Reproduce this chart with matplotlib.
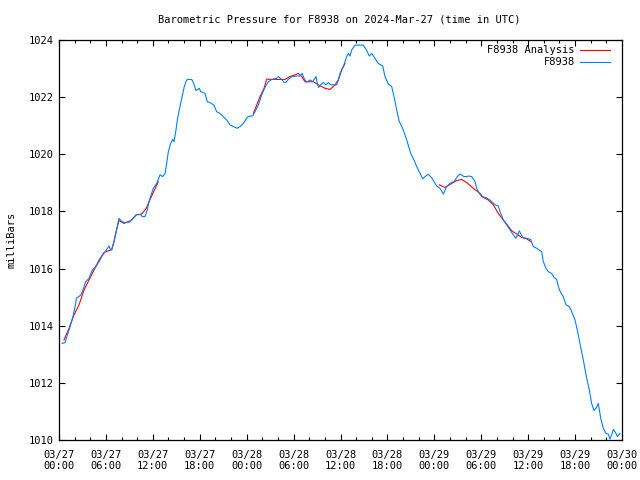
import numpy as np
import pandas as pd
import matplotlib
matplotlib.use("Agg")
import matplotlib.pyplot as plt
import matplotlib.dates as mdates

# leituras da estacao F8938 (horas desde 2024-03-27 00:00 UTC, mb)
horas_obs = [0.42, 0.77, 1.28, 1.79, 2.14, 2.21, 2.78, 3.07, 3.41, 3.84, 4.26, 4.69, 5.12, 5.46,
             5.75, 6.05, 6.39, 6.61, 6.74, 7.03, 7.25, 7.46, 7.67, 7.89, 8.31, 8.95, 9.37, 9.89,
             10.45, 10.65, 11.00, 11.29, 11.51, 11.64, 12.06, 12.49, 12.92, 13.26, 13.56, 13.77,
             13.98, 14.28, 14.54, 14.71, 14.96, 15.13, 15.38, 15.56, 15.82, 16.02, 16.24, 16.41,
             16.97, 17.26, 17.52, 17.74, 17.94, 18.12, 18.38, 18.67, 18.97, 19.31, 19.82, 20.17,
             20.59, 21.01, 21.45, 21.87, 22.29, 22.80, 23.15, 23.57, 24.08, 24.43, 24.77, 25.07,
             25.49, 25.92, 26.34, 26.77, 27.20, 27.84, 28.05, 28.48, 28.77, 29.03, 29.32, 29.76,
             30.40, 30.82, 31.11, 31.33, 31.68, 32.10, 32.44, 32.87, 33.03, 33.21, 33.47, 33.80,
             34.15, 34.44, 34.75, 35.51, 35.72, 35.94, 36.36, 36.79, 37.00, 37.21, 37.43, 37.85,
             38.92, 39.35, 39.68, 39.99, 40.41, 40.83, 41.40, 41.69, 42.11, 42.55, 42.84, 43.19,
             43.52, 43.95, 44.47, 44.98, 45.40, 45.75, 46.17, 46.51, 46.81, 47.23, 47.66, 47.96,
             48.30, 48.72, 49.15, 49.58, 50.00, 50.51, 50.94, 51.28, 51.79, 52.14, 52.34, 52.78,
             53.20, 53.42, 53.75, 54.06, 54.61, 55.12, 55.76, 56.18, 56.40, 56.82, 57.25, 57.68,
             58.10, 58.44, 58.87, 59.30, 59.81, 60.32, 60.66, 61.09, 61.73, 61.94, 62.28, 62.58,
             63.01, 63.30, 63.65, 63.85, 64.16, 64.49, 64.84, 65.26, 65.57, 65.99, 66.28, 66.63,
             67.05, 67.40, 67.82, 68.12, 68.42, 68.67, 68.97, 69.28, 69.61, 69.95, 70.25, 70.46,
             70.68, 70.89, 71.23, 71.40, 71.74]
pressao_obs = [1013.38, 1013.41, 1013.85, 1014.32, 1014.78, 1014.96, 1015.07, 1015.25, 1015.54,
               1015.66, 1015.95, 1016.07, 1016.24, 1016.42, 1016.53, 1016.65, 1016.79, 1016.65,
               1016.65, 1016.94, 1017.23, 1017.47, 1017.76, 1017.68, 1017.61, 1017.62, 1017.72,
               1017.89, 1017.89, 1017.82, 1017.82, 1018.05, 1018.34, 1018.46, 1018.81, 1018.98,
               1019.28, 1019.22, 1019.33, 1019.68, 1020.09, 1020.38, 1020.52, 1020.44, 1020.85,
               1021.20, 1021.55, 1021.78, 1022.13, 1022.37, 1022.54, 1022.62, 1022.62, 1022.46,
               1022.23, 1022.27, 1022.31, 1022.19, 1022.17, 1022.13, 1021.84, 1021.81, 1021.72,
               1021.49, 1021.43, 1021.32, 1021.20, 1021.03, 1020.97, 1020.91, 1020.97, 1021.08,
               1021.29, 1021.34, 1021.34, 1021.49, 1021.72, 1022.08, 1022.34, 1022.54, 1022.62,
               1022.66, 1022.72, 1022.62, 1022.52, 1022.52, 1022.62, 1022.72, 1022.74, 1022.74,
               1022.83, 1022.66, 1022.52, 1022.60, 1022.54, 1022.72, 1022.48, 1022.34, 1022.43,
               1022.51, 1022.43, 1022.51, 1022.43, 1022.43, 1022.60, 1022.83, 1023.07, 1023.42,
               1023.53, 1023.44, 1023.65, 1023.82, 1023.82, 1023.63, 1023.44, 1023.53, 1023.36,
               1023.18, 1023.09, 1022.72, 1022.46, 1022.37, 1022.02, 1021.55, 1021.14, 1020.91,
               1020.50, 1020.03, 1019.80, 1019.57, 1019.33, 1019.14, 1019.22, 1019.30, 1019.18,
               1019.04, 1018.89, 1018.81, 1018.61, 1018.87, 1018.98, 1019.04, 1019.22, 1019.31,
               1019.22, 1019.22, 1019.24, 1019.22, 1019.04, 1018.81, 1018.63, 1018.52, 1018.48,
               1018.40, 1018.23, 1018.19, 1017.99, 1017.70, 1017.53, 1017.35, 1017.18, 1017.06,
               1017.32, 1017.09, 1017.06, 1017.02, 1016.77, 1016.71, 1016.59, 1016.24, 1016.01,
               1015.89, 1015.83, 1015.69, 1015.62, 1015.37, 1015.16, 1015.02, 1014.73, 1014.67,
               1014.49, 1014.20, 1013.85, 1013.38, 1012.80, 1012.28, 1011.75, 1011.28, 1011.03,
               1011.11, 1011.28, 1010.76, 1010.41, 1010.23, 1010.21, 1010.03, 1010.18, 1010.37,
               1010.23, 1010.12, 1010.23]

# analise (tres trechos, NaN separa)
horas_analise = [0.64, 1.28, 1.92, 2.56, 3.20, 3.84, 4.48, 5.12, 5.75, 6.39, 6.74, 7.03, 7.46,
                 7.67, 8.31, 9.17, 9.89, 10.58, 11.16, 11.51, 12.70, 12.8,
                 24.85, 25.07, 25.71, 26.22, 26.56, 27.20, 28.90, 29.54, 30.18, 30.60, 31.04,
                 31.46, 32.52, 33.16, 34.02, 34.66, 35.30, 35.72, 36.15, 36.58, 36.7,
                 48.64, 49.36, 50.22, 50.86, 51.50, 52.14, 52.98, 53.84, 54.26, 54.90, 55.54,
                 56.18, 56.82, 57.33, 57.90, 58.54, 59.17, 59.81, 60.36]
pressao_analise = [1013.50, 1013.91, 1014.38, 1014.73, 1015.25, 1015.60, 1015.95, 1016.30,
                   1016.56, 1016.63, 1016.67, 1016.94, 1017.47, 1017.68, 1017.58, 1017.68,
                   1017.88, 1017.91, 1018.11, 1018.34, 1019.04, np.nan,
                   1021.43, 1021.57, 1022.02, 1022.31, 1022.63, 1022.62, 1022.62, 1022.72,
                   1022.78, 1022.83, 1022.72, 1022.54, 1022.54, 1022.43, 1022.31, 1022.27,
                   1022.43, 1022.60, 1022.95, 1023.18, np.nan,
                   1018.93, 1018.84, 1018.98, 1019.08, 1019.12, 1019.01, 1018.81, 1018.63,
                   1018.49, 1018.40, 1018.23, 1017.93, 1017.70, 1017.53, 1017.32, 1017.21,
                   1017.09, 1017.04, 1016.94]

inicio = pd.Timestamp("2024-03-27 00:00")
tempo_obs = inicio + pd.to_timedelta(horas_obs, unit="h")
tempo_analise = inicio + pd.to_timedelta(horas_analise, unit="h")

plt.rcParams['font.family'] = ['DejaVu Sans Mono']
plt.rcParams['font.size'] = 7

fig = plt.figure(figsize=(6.4, 4.8), dpi=100)
ax = fig.add_axes([59 / 640, 40 / 480, 563 / 640, 400 / 480])

ax.plot(tempo_analise, pressao_analise, color='#ff0000', lw=0.8)
ax.plot(tempo_obs, pressao_obs, color='#0080ff', lw=0.8)

ax.set_xlim(inicio, inicio + pd.Timedelta(hours=72))
ax.set_ylim(1010, 1024)
ax.set_yticks(np.arange(1010, 1025, 2))
ax.xaxis.set_major_locator(mdates.HourLocator(byhour=[0, 6, 12, 18]))
ax.xaxis.set_minor_locator(mdates.HourLocator(interval=2))
ax.xaxis.set_major_formatter(mdates.DateFormatter('%m/%d\n%H:%M'))
ax.tick_params(which='both', direction='in', top=True, right=True, width=0.8, color='black')
ax.tick_params(which='major', length=4, labelsize=7.5)
ax.tick_params(axis='x', which='major', pad=7)
ax.tick_params(which='minor', length=2.5)
for s in ax.spines.values():
    s.set_linewidth(0.9)

# legenda estilo gnuplot
ax.text(0.9165, 0.975, 'F8938 Analysis', transform=ax.transAxes, ha='right', va='center', fontsize=7.5)
ax.plot([0.925, 0.979], [0.975, 0.975], transform=ax.transAxes, color='#ff0000', lw=0.8)
ax.text(0.9165, 0.945, 'F8938', transform=ax.transAxes, ha='right', va='center', fontsize=7.5)
ax.plot([0.925, 0.979], [0.945, 0.945], transform=ax.transAxes, color='#0080ff', lw=0.8)

fig.text(0.53, 1 - 20 / 480, 'Barometric Pressure for F8938 on 2024-Mar-27 (time in UTC)',
         ha='center', va='center', fontsize=7.5)
fig.text(12 / 640, 0.5, 'milliBars', rotation=90, ha='center', va='center', fontsize=7.5)

fig.savefig('out.png', dpi=100)
